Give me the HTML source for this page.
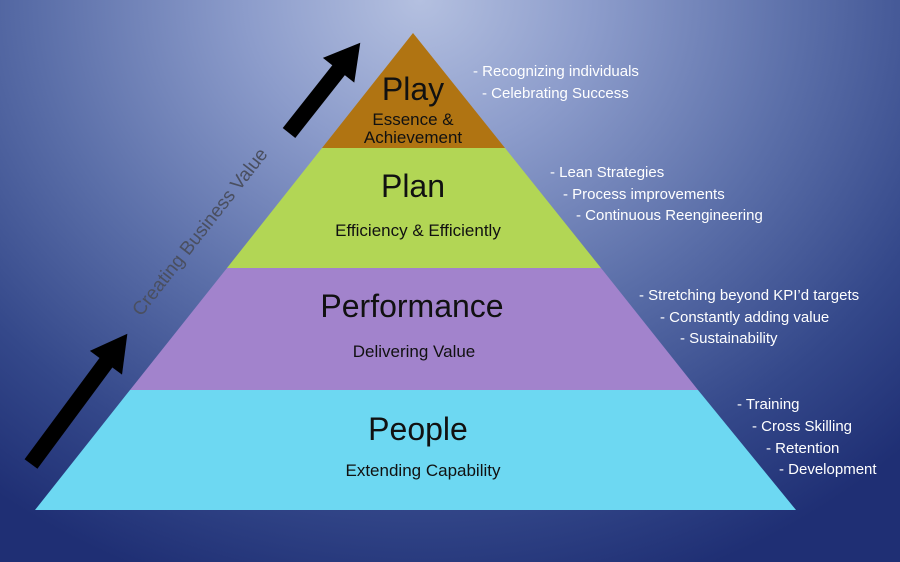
<!DOCTYPE html>
<html><head><meta charset="utf-8"><style>
html,body{margin:0;padding:0}
body{width:900px;height:562px;overflow:hidden;position:relative;font-family:"Liberation Sans",sans-serif;
background:radial-gradient(ellipse 700px 620px at 420px 0px,#b4c0e0 0%,#8c9ccb 25%,#5a6ea8 55%,#34488a 80%,#1f2f74 100%);}
svg{position:absolute;left:0;top:0}
.c{font-family:"Liberation Sans",sans-serif;fill:#111;text-anchor:middle}
.w{font-family:"Liberation Sans",sans-serif;fill:#fff;font-size:15px}
</style></head><body>
<svg width="900" height="562" viewBox="0 0 900 562">
<polygon points="413,33 505,148 322,148" fill="#b07412"/>
<polygon points="322,148 505,148 601,268 227,268" fill="#b2d655"/>
<polygon points="227,268 601,268 698,390 130,390" fill="#a283cc"/>
<polygon points="130,390 698,390 796,510 35,510" fill="#6dd8f2"/>
<text class="c" x="413" y="100" font-size="32">Play</text>
<text class="c" x="413" y="125" font-size="17">Essence &amp;</text>
<text class="c" x="413" y="143" font-size="17">Achievement</text>
<text class="c" x="413" y="197" font-size="32">Plan</text>
<text class="c" x="418" y="236" font-size="17">Efficiency &amp; Efficiently</text>
<text class="c" x="412" y="317" font-size="32">Performance</text>
<text class="c" x="414" y="357" font-size="17">Delivering Value</text>
<text class="c" x="418" y="440" font-size="32">People</text>
<text class="c" x="423" y="476" font-size="17">Extending Capability</text>
<text class="w" x="473" y="76">- Recognizing individuals</text>
<text class="w" x="482" y="98">- Celebrating Success</text>
<text class="w" x="550" y="177">- Lean Strategies</text>
<text class="w" x="563" y="199">- Process improvements</text>
<text class="w" x="576" y="220">- Continuous Reengineering</text>
<text class="w" x="639" y="300">- Stretching beyond KPI’d targets</text>
<text class="w" x="660" y="322">- Constantly adding value</text>
<text class="w" x="680" y="343">- Sustainability</text>
<text class="w" x="737" y="409">- Training</text>
<text class="w" x="752" y="431">- Cross Skilling</text>
<text class="w" x="766" y="453">- Retention</text>
<text class="w" x="779" y="474">- Development</text>
<text x="200" y="238" font-size="19" fill="#4a4f60" text-anchor="middle" transform="rotate(-52 200 232)" font-family="Liberation Sans,sans-serif">Creating Business Value</text>
<g fill="#000">
<g transform="translate(289,133) rotate(-51.7)">
<rect x="0" y="-8" width="84" height="16"/>
<polygon points="80,-20 115,0 80,20"/>
</g>
<g transform="translate(31,464) rotate(-53.5)">
<rect x="0" y="-8" width="130" height="16"/>
<polygon points="126,-20 162,0 126,20"/>
</g>
</g>
</svg>
</body></html>
